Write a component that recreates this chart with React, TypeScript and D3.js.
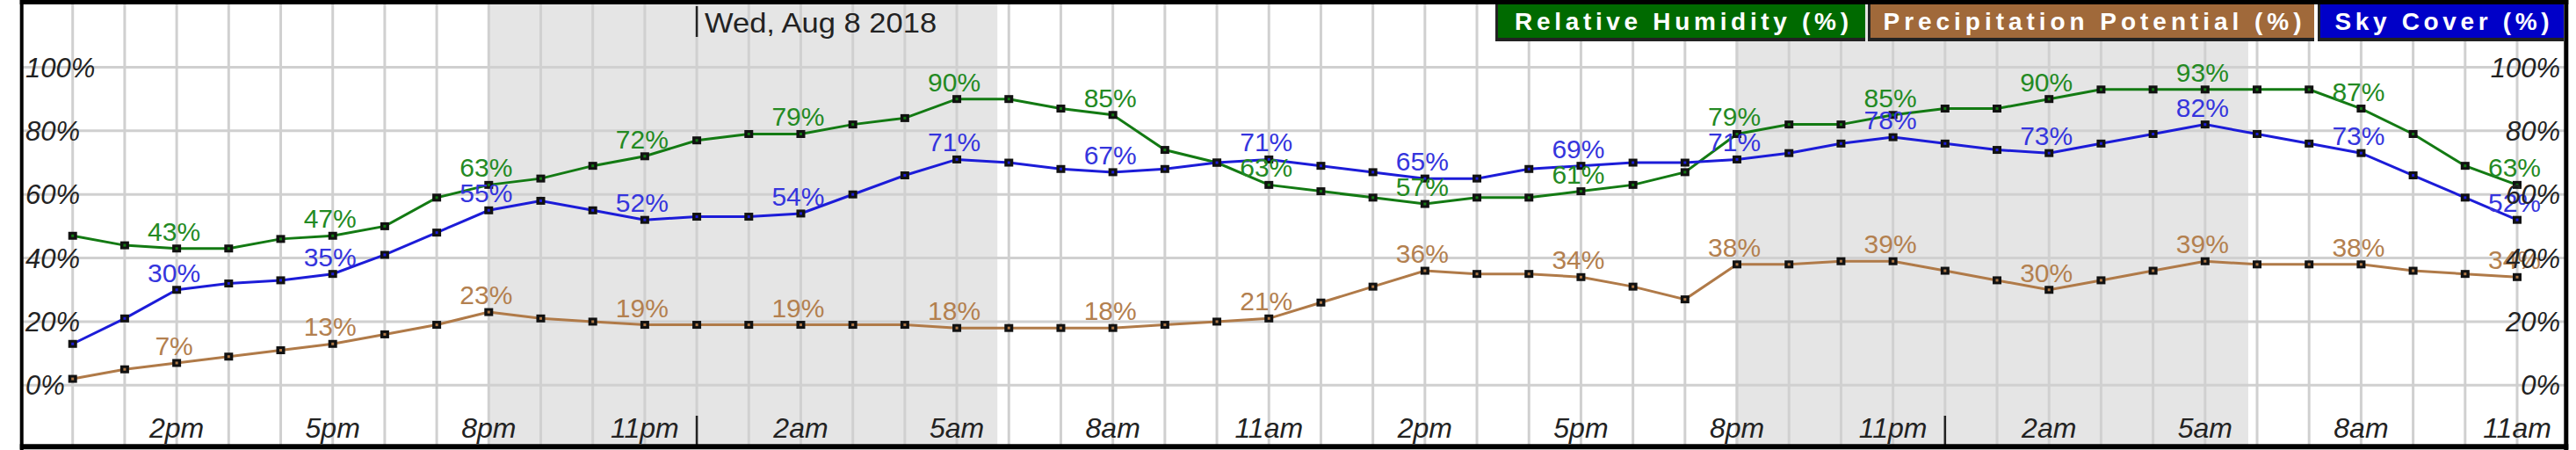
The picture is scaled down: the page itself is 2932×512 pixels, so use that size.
import React from 'react'
import * as d3 from 'd3'

// hourly forecast, 12pm Tue -> 11am Thu
const humidity = [47, 44, 43, 43, 46, 47, 50, 59, 63, 65, 69, 72, 77, 79, 79, 82, 84, 90, 90, 87, 85, 74, 70, 63,
  61, 59, 57, 59, 59, 61, 63, 67, 79, 82, 82, 85, 87, 87, 90, 93, 93, 93, 93, 93, 87, 79, 69, 63]
const skyCover = [13, 21, 30, 32, 33, 35, 41, 48, 55, 58, 55, 52, 53, 53, 54, 60, 66, 71, 70, 68, 67, 68, 70, 71,
  69, 67, 65, 65, 68, 69, 70, 70, 71, 73, 76, 78, 76, 74, 73, 76, 79, 82, 79, 76, 73, 66, 59, 52]
const precip = [2, 5, 7, 9, 11, 13, 16, 19, 23, 21, 20, 19, 19, 19, 19, 19, 19, 18, 18, 18, 18, 19, 20, 21,
  26, 31, 36, 35, 35, 34, 31, 27, 38, 38, 39, 39, 36, 33, 30, 33, 36, 39, 38, 38, 38, 36, 35, 34]

const timeLabels = ['2pm', '5pm', '8pm', '11pm', '2am', '5am', '8am', '11am',
  '2pm', '5pm', '8pm', '11pm', '2am', '5am', '8am', '11am']
const yTicks = [0, 20, 40, 60, 80, 100]
const nightSpans = [[8.0, 17.78], [31.97, 41.83]]
const midnights = [12, 36]
const dateLabel = 'Wed, Aug 8 2018'

const W = 2932
const H = 512
const font = '"Liberation Sans", Arial, sans-serif'

const x = d3.scaleLinear().domain([0, 47]).range([82.7, 2865])
const y = d3.scaleLinear().domain([0, 100]).range([438.3, 76.5])

const frame = { left: 24.7, right: 2920.8, top: 2.5, bottom: 508.3 }

const series = [
  { name: 'Precipitation Potential (%)', values: precip, line: '#b07a48', text: '#b3804f', box: '#a0693a', bx: 2129, bw: 505, tw: 476 },
  { name: 'Relative Humidity (%)', values: humidity, line: '#137a13', text: '#238a23', box: '#006a00', bx: 1705, bw: 418, tw: 380 },
  { name: 'Sky Cover (%)', values: skyCover, line: '#1c1cd8', text: '#3535dd', box: '#0000c8', bx: 2641, bw: 277, tw: 244 },
]

const labelIdx = timeLabels.map((_, i) => 2 + i * 3)

export default function App() {
  const line = d3.line<number>().x((_, i) => x(i)).y(d => y(d))
  const hours = d3.range(48)

  return (
    <svg width={W} height={H} style={{ position: 'absolute', left: 0, top: 0, background: '#fff' }}>
      {/* night shading */}
      {nightSpans.map(([a, b], i) => (
        <rect key={i} x={x(a)} y={frame.top} width={x(b) - x(a)} height={frame.bottom - frame.top} fill="#e5e5e5" />
      ))}

      {/* grid */}
      {hours.map(i => (
        <line key={'v' + i} x1={x(i)} x2={x(i)} y1={frame.top} y2={frame.bottom} stroke="#d0d0d0" strokeWidth={3} />
      ))}
      {yTicks.map(t => (
        <line key={'h' + t} x1={frame.left} x2={frame.right} y1={y(t)} y2={y(t)} stroke="#d0d0d0" strokeWidth={3} />
      ))}

      {/* day dividers */}
      {midnights.map(m => (
        <g key={m}>
          <line x1={x(m)} x2={x(m)} y1={7} y2={42} stroke="#222" strokeWidth={2.5} />
          <line x1={x(m)} x2={x(m)} y1={473} y2={507} stroke="#222" strokeWidth={2.5} />
        </g>
      ))}
      <text x={x(12) + 9} y={37} fontFamily={font} fontSize={32} fill="#222"
        textLength={264} lengthAdjust="spacingAndGlyphs">{dateLabel}</text>

      {/* series lines */}
      {series.map(s => (
        <path key={s.name} d={line(s.values) || ''} fill="none" stroke={s.line} strokeWidth={3} />
      ))}
      {series.map(s => (
        <g key={s.name + 'm'}>
          {s.values.map((v, i) => (
            <g key={i}>
              <rect x={x(i) - 5} y={y(v) - 4.5} width={10} height={9} fill="#111" />
              <rect x={x(i) - 1.5} y={y(v) - 1.5} width={3} height={3} fill={s.line} />
            </g>
          ))}
        </g>
      ))}
      {series.map(s => (
        <g key={s.name + 'l'}>
          {labelIdx.map(i => (
            <text key={i} x={x(i) - 3} y={y(s.values[i]) - 9} textAnchor="middle"
              fontFamily={font} fontSize={30} fill={s.text}>{s.values[i]}%</text>
          ))}
        </g>
      ))}

      {/* y axis labels, both sides */}
      {yTicks.map(t => (
        <g key={'y' + t}>
          <text x={29} y={y(t) + 11} fontFamily={font} fontSize={31} fontStyle="italic" fill="#222">{t}%</text>
          <text x={2914} y={y(t) + 11} textAnchor="end" fontFamily={font} fontSize={31} fontStyle="italic" fill="#222">{t}%</text>
        </g>
      ))}

      {/* x axis labels */}
      {timeLabels.map((lab, i) => (
        <text key={'x' + i} x={x(labelIdx[i])} y={498} textAnchor="middle" fontFamily={font}
          fontSize={32} fontStyle="italic" fill="#222">{lab}</text>
      ))}

      {/* legend */}
      {series.map(s => (
        <g key={s.name + 'g'}>
          <rect x={s.bx - 3} y={frame.top} width={s.bw + 3} height={44.5} fill="#222" />
          <rect x={s.bx} y={frame.top} width={s.bw} height={40.5} fill={s.box} />
          <text x={s.bx + s.bw / 2} y={34} textAnchor="middle" fontFamily={font} fontSize={28}
            fontWeight="bold" fill="#fff" textLength={s.tw} lengthAdjust="spacing">{s.name}</text>
        </g>
      ))}

      {/* frame */}
      <line x1={frame.left - 2} x2={frame.right + 2.5} y1={frame.top} y2={frame.top} stroke="#000" strokeWidth={5} />
      <line x1={frame.left - 2} x2={frame.right + 2.5} y1={frame.bottom} y2={frame.bottom} stroke="#000" strokeWidth={6} />
      <line x1={frame.left} x2={frame.left} y1={0} y2={H} stroke="#000" strokeWidth={4} />
      <line x1={frame.right} x2={frame.right} y1={0} y2={H} stroke="#000" strokeWidth={5} />
    </svg>
  )
}
